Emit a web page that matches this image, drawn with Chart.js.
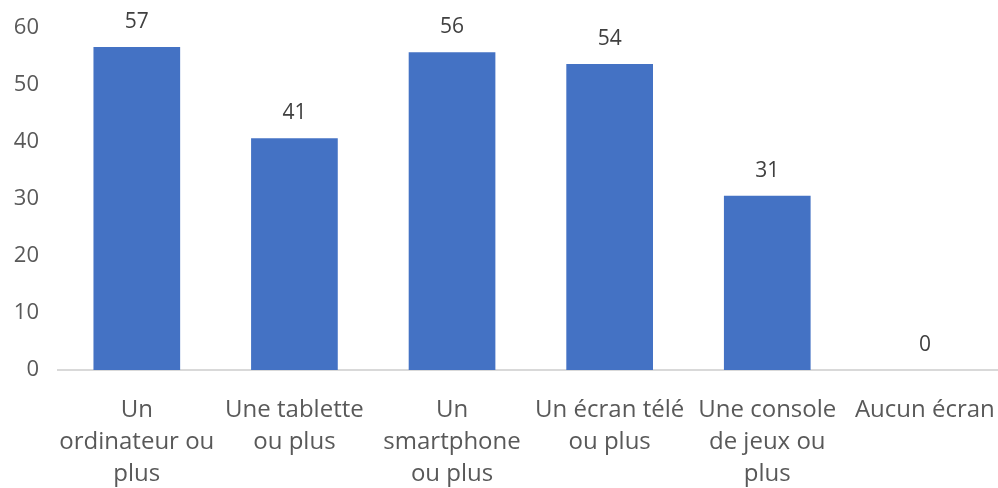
<!DOCTYPE html>
<html>
<head>
<meta charset="utf-8">
<script src="https://cdn.jsdelivr.net/npm/chart.js@4"></script>
<style>
  html, body { margin: 0; padding: 0; background: #fff; overflow: hidden; }
  #c { display: block; margin-top: -4px; }
</style>
</head>
<body>
<canvas id="c" width="1019" height="492"></canvas>
<script>
const categories = [
  ['Un', 'ordinateur ou', 'plus'],
  ['Une tablette', 'ou plus'],
  ['Un', 'smartphone', 'ou plus'],
  ['Un écran télé', 'ou plus'],
  ['Une console', 'de jeux ou', 'plus'],
  ['Aucun écran']
];
const values = [56.7, 40.7, 55.8, 53.7, 30.6, 0];
const yTicks = [0, 10, 20, 30, 40, 50, 60];

const BAR = '#4472C4';
const TXT = '#595959';
const FONT = '"Open Sans", sans-serif';

// value labels over the bars
const valueLabels = {
  id: 'valueLabels',
  afterDatasetsDraw(chart) {
    const ctx = chart.ctx;
    const meta = chart.getDatasetMeta(0);
    ctx.save();
    ctx.fillStyle = '#404040';
    ctx.font = '21px ' + FONT;
    ctx.textAlign = 'center';
    ctx.textBaseline = 'middle';
    meta.data.forEach((bar, i) => {
      ctx.fillText(Math.round(values[i]), bar.x, bar.y - 25);
    });
    ctx.restore();
  }
};

new Chart(document.getElementById('c'), {
  type: 'bar',
  data: {
    labels: categories,
    datasets: [{ data: values, backgroundColor: BAR, categoryPercentage: 1, barPercentage: 0.55 }]
  },
  options: {
    responsive: false, animation: false,
    layout: { padding: { top: 23, right: 2, left: 0, bottom: 0 } },
    plugins: { legend: { display: false }, tooltip: { enabled: false } },
    scales: {
      x: {
        grid: { display: false, drawTicks: false },
        border: { color: '#D9D9D9', width: 2 },
        ticks: { color: TXT, font: { family: FONT, size: 24, lineHeight: 1.333 }, padding: 24, maxRotation: 0, autoSkip: false },
        afterFit: s => { s.height = 118; }
      },
      y: {
        min: 0, max: 60,
        afterBuildTicks: s => { s.ticks = yTicks.map(v => ({ value: v })); },
        grid: { display: false, drawTicks: false },
        border: { display: false },
        ticks: { color: TXT, font: { family: FONT, size: 22 }, padding: 19 },
        afterFit: s => { s.width = 58; }
      }
    }
  },
  plugins: [valueLabels]
});
</script>
</body>
</html>
